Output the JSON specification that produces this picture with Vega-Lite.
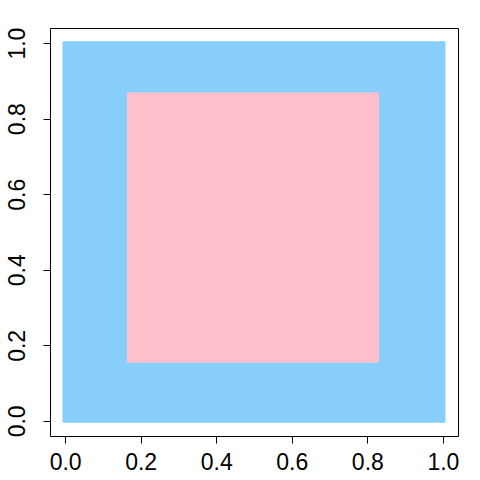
{
  "$schema": "https://vega.github.io/schema/vega-lite/v6.json",
  "width": 408,
  "height": 408,
  "autosize": {"type": "none"},
  "padding": {"left": 50, "top": 28, "right": 22, "bottom": 44},
  "background": "white",
  "config": {
    "view": {"stroke": "black", "strokeWidth": 1},
    "axis": {
      "domain": false,
      "grid": false,
      "ticks": true,
      "tickColor": "black",
      "tickSize": 7,
      "tickWidth": 1,
      "labelFont": "Liberation Sans",
      "labelFontSize": 23,
      "labelColor": "black",
      "title": null
    }
  },
  "data": {
    "values": [
      {"region": "outer", "x0": -0.007, "x1": 1.007, "y0": -0.005, "y1": 1.005},
      {"region": "inner", "x0": 0.164, "x1": 0.831, "y0": 0.154, "y1": 0.869}
    ]
  },
  "mark": {"type": "rect"},
  "encoding": {
    "x": {"field": "x0", "type": "quantitative", "scale": {"domain": [-0.04, 1.04], "nice": false, "zero": false},
          "axis": {"values": [0, 0.2, 0.4, 0.6, 0.8, 1.0], "format": ".1f", "labelPadding": 8, "labelFlush": false}},
    "x2": {"field": "x1"},
    "y": {"field": "y0", "type": "quantitative", "scale": {"domain": [-0.04, 1.04], "nice": false, "zero": false},
          "axis": {"values": [0, 0.2, 0.4, 0.6, 0.8, 1.0], "format": ".1f", "labelAngle": -90, "labelAlign": "center", "labelBaseline": "bottom", "labelPadding": 14, "labelFlush": false}},
    "y2": {"field": "y1"},
    "color": {"field": "region", "type": "nominal", "scale": {"domain": ["outer", "inner"], "range": ["#87CEFA", "#FFC0CB"]}, "legend": null},
    "order": {"field": "region", "sort": "descending"}
  }
}
